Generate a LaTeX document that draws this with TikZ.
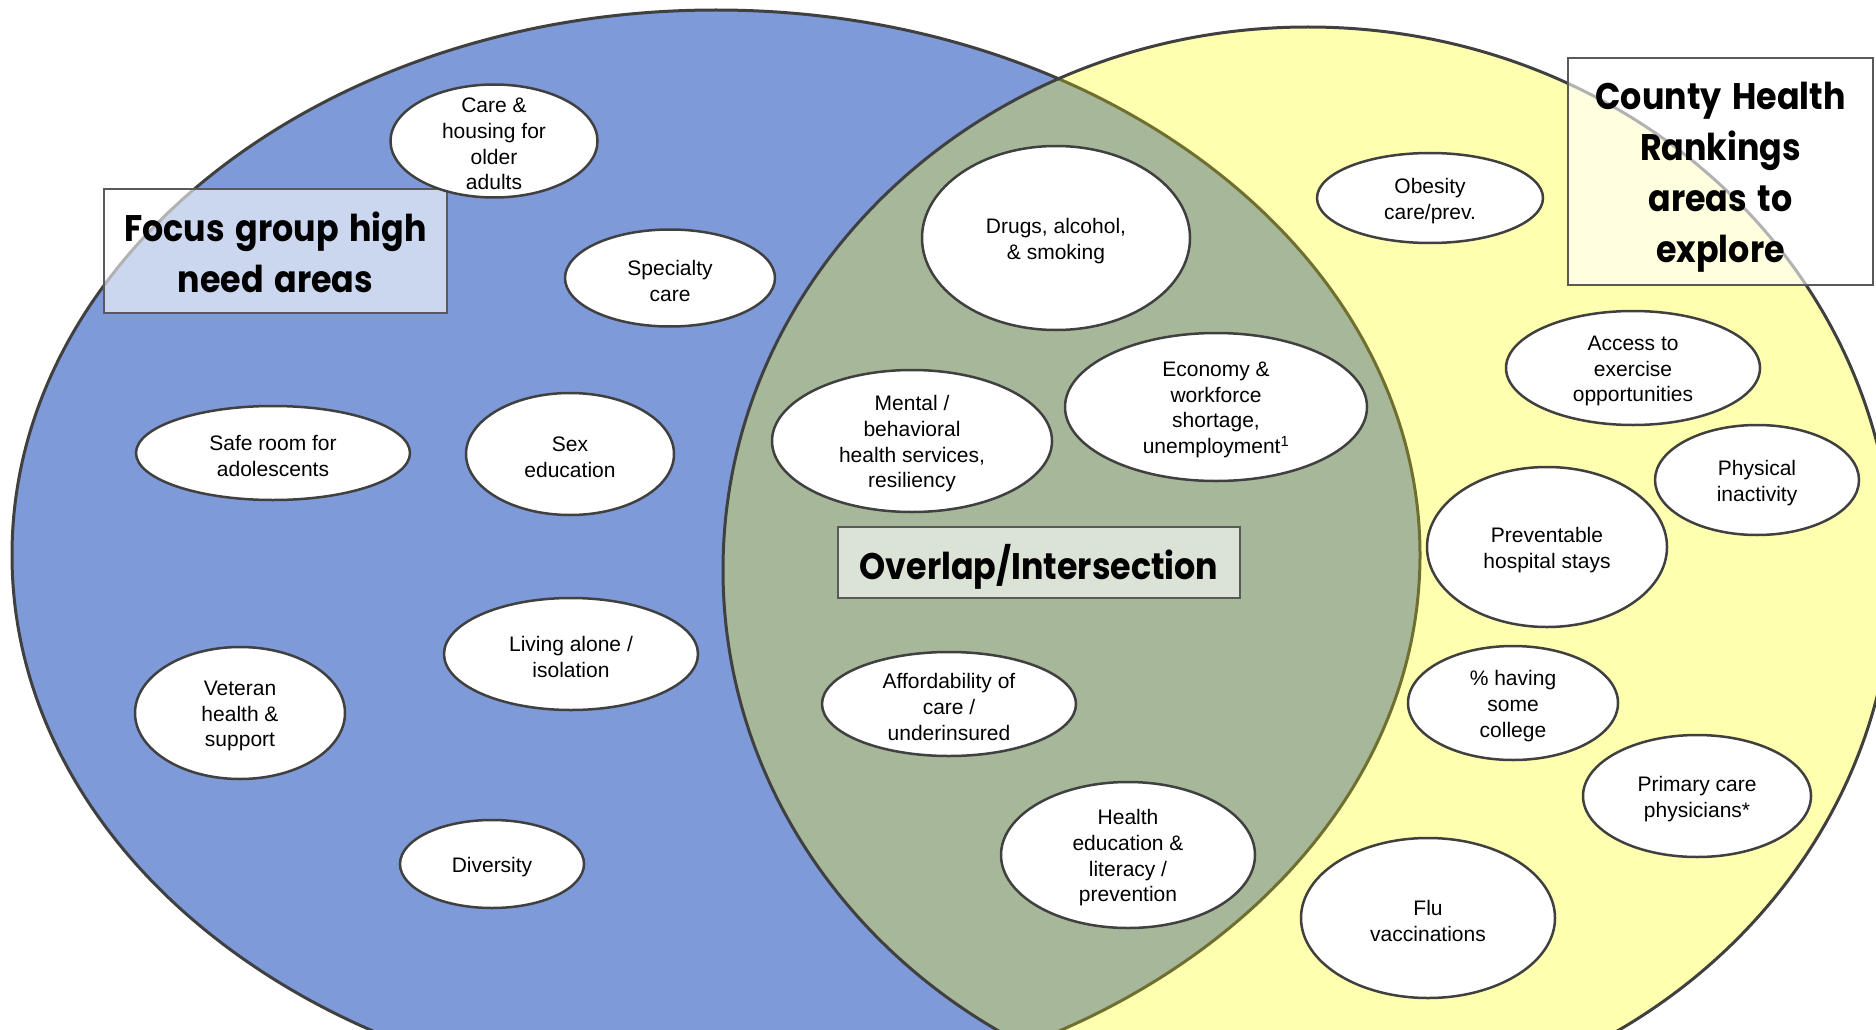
\documentclass[tikz,border=0pt]{standalone}
\usepackage{fontspec}
\setmainfont{Liberation Sans}
\newfontfamily\titlefont[FakeStretch=0.9, WordSpace=1.5]{Poppins}
\usetikzlibrary{shapes.geometric}
\definecolor{cblue}{HTML}{7F9AD8}
\definecolor{cyellow}{HTML}{FFFFB0}
\definecolor{cgreen}{HTML}{A7B79A}
\definecolor{cedge}{HTML}{404040}
\definecolor{colive}{HTML}{6F6F30}
\definecolor{cbox}{HTML}{595959}
\tikzset{
  bub/.style 2 args={ellipse, draw=cedge, line width=2.5pt, fill=white,
    minimum width=#1, minimum height=#2, inner sep=0pt},
  lab/.style={align=center, font=\fontsize{21}{25.7}\selectfont, inner sep=0pt, yshift=-3pt},
  tbox/.style={draw=cbox, line width=2pt, fill=white, fill opacity=0.6, inner sep=0pt},
  ttl/.style={align=center, inner sep=0pt, yshift=-4pt,
    font=\titlefont\bfseries\fontsize{37}{51}\selectfont},
  venn/.style={line width=3pt}
}
\begin{document}
\begin{tikzpicture}[x=1pt,y=-1pt]
\useasboundingbox (0,0) rectangle (1876,1030);
\coordinate (L) at (716,555);
\coordinate (R) at (1308,570);
% Venn circles
\fill[cblue] (L) ellipse [x radius=704, y radius=545];
\draw[cedge, venn] (L) ellipse [x radius=704, y radius=545];
\fill[cyellow] (R) ellipse [x radius=585, y radius=543];
\begin{scope}
  \clip (L) ellipse [x radius=704, y radius=545];
  \fill[cgreen] (R) ellipse [x radius=585, y radius=543];
\end{scope}
\begin{scope}
  \clip (R) ellipse [x radius=585, y radius=543];
  \draw[colive, venn] (L) ellipse [x radius=704, y radius=545];
\end{scope}
\draw[cedge, venn] (R) ellipse [x radius=585, y radius=543];

% title boxes
\node[tbox, minimum width=343, minimum height=124, label={[ttl, yshift=3pt]center:Focus group high\\need areas}] (focus) at (275.5,251) {};
\node[tbox, minimum width=305, minimum height=227, label={[ttl, yshift=-2pt]center:County Health\\Rankings\\areas to\\explore}] (county) at (1720.5,171.5) {};
\node[tbox, minimum width=402, minimum height=71, label={[ttl]center:Overlap/Intersection}] (overlap) at (1039,562.5) {};

% left only
\node[bub={207}{113}, label={[lab]center:Care \&\\housing for\\older\\adults}] (care) at (494,141) {};
\node[bub={210}{97}, label={[lab]center:Specialty\\care}] (spec) at (670,278) {};
\node[bub={274}{94}, label={[lab]center:Safe room for\\adolescents}] (safe) at (273,453) {};
\node[bub={208}{122}, label={[lab]center:Sex\\education}] (sex) at (570,454) {};
\node[bub={254}{112}, label={[lab]center:Living alone /\\isolation}] (alone) at (571,654) {};
\node[bub={210}{132}, label={[lab]center:Veteran\\health \&\\support}] (vet) at (240,713) {};
\node[bub={184}{88}, label={[lab]center:Diversity}] (div) at (492,864) {};

% overlap
\node[bub={268}{184}, label={[lab]center:Drugs, alcohol,\\\& smoking}] (drugs) at (1056,238) {};
\node[bub={280}{142}, label={[lab]center:Mental /\\behavioral\\health services,\\resiliency}] (mental) at (912,441) {};
\node[bub={302}{148}, label={[lab]center:Economy \&\\workforce\\shortage,\\unemployment\textsuperscript{1}}] (econ) at (1216,407) {};
\node[bub={254}{104}, label={[lab]center:Affordability of\\care /\\underinsured}] (afford) at (949,704) {};
\node[bub={254}{146}, label={[lab]center:Health\\education \&\\literacy /\\prevention}] (hedu) at (1128,855) {};

% right only
\node[bub={226}{90}, label={[lab]center:Obesity\\care/prev.}] (obes) at (1430,198) {};
\node[bub={254}{114}, label={[lab]center:Access to\\exercise\\opportunities}] (access) at (1633,368) {};
\node[bub={204}{110}, label={[lab]center:Physical\\inactivity}] (phys) at (1757,480) {};
\node[bub={240}{160}, label={[lab]center:Preventable\\hospital stays}] (prev) at (1547,547) {};
\node[bub={210}{114}, label={[lab]center:\% having\\some\\college}] (coll) at (1513,703) {};
\node[bub={228}{122}, label={[lab]center:Primary care\\physicians*}] (prim) at (1697,796) {};
\node[bub={254}{160}, label={[lab]center:Flu\\vaccinations}] (flu) at (1428,918) {};
\end{tikzpicture}
\end{document}
